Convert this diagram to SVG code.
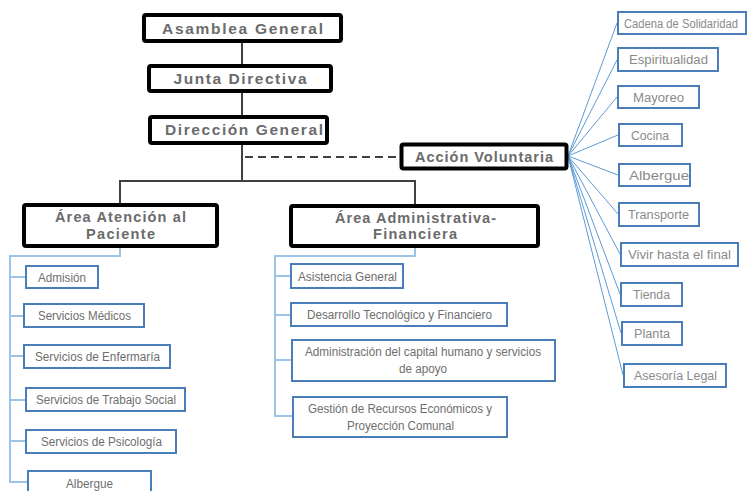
<svg xmlns="http://www.w3.org/2000/svg" width="749" height="491" viewBox="0 0 749 491">
<style>
.main{fill:#fff;stroke:#000;stroke-width:4;}
.mt{font-family:"Liberation Sans",Arial,sans-serif;font-weight:bold;fill:#6b6b6b;text-anchor:middle;}
.sub{fill:#fff;stroke:#4a7ebb;stroke-width:2;}
.st{font-family:"Liberation Sans",Arial,sans-serif;font-size:12.5px;fill:#6e6e6e;text-anchor:middle;}
.rt{font-family:"Liberation Sans",Arial,sans-serif;font-size:12.5px;fill:#8a8a8a;text-anchor:middle;}
.dk{stroke:#404040;stroke-width:2;fill:none;}
.tree{stroke:#9dc3e6;stroke-width:2;fill:none;}
.fan{stroke:#5b9bd5;stroke-width:1;fill:none;}
</style>
<g id="connectors">
<path class="dk" d="M242,43V64M242,93V115M242,145V180M120,181H415M120,180V203M415,180V204"/>
<path class="dk" d="M245,157H400" stroke-dasharray="8,5"/>
<path class="tree" d="M120,248V256H10V482H27M10,277H25M10,316H23M10,356H23M10,400H25M10,441H25"/>
<path class="tree" d="M415,248V256H275V416H292M275,276H290M275,315H290M275,360H291"/>
<path class="fan" d="M568,156L617,23M568,156L617,60M568,156L617,97M568,156L618,135M568,156L618,175M568,156L618,214M568,156L620,254M568,156L620,294M568,156L621,333M568,156L623,375"/>
</g>
<g id="asamblea"><rect class="main" x="144" y="15" width="197" height="26" rx="2"/><text class="mt" x="242.5" y="34" font-size="15.5" textLength="161" lengthAdjust="spacing">Asamblea General</text></g>
<g id="junta"><rect class="main" x="149" y="66" width="182" height="25" rx="2"/><text class="mt" x="240" y="84" font-size="15.5" textLength="133" lengthAdjust="spacing">Junta Directiva</text></g>
<g id="direccion"><rect class="main" x="150" y="117" width="177" height="26" rx="2"/><text class="mt" x="244" y="135" font-size="15.5" textLength="158" lengthAdjust="spacing">Dirección General</text></g>
<g id="accion"><rect class="main" x="401.5" y="144.5" width="165" height="24" rx="2" stroke-width="3"/><text class="mt" x="484" y="161.5" font-size="14.5" textLength="138" lengthAdjust="spacing">Acción Voluntaria</text></g>
<g id="area-atencion"><rect class="main" x="24" y="205" width="193" height="41" rx="2"/><text class="mt" x="120.5" y="222" font-size="14.5" textLength="131" lengthAdjust="spacing">Área Atención al</text><text class="mt" x="120.5" y="239" font-size="14.5" textLength="69" lengthAdjust="spacing">Paciente</text></g>
<g id="area-admin"><rect class="main" x="291" y="206" width="247" height="40" rx="2"/><text class="mt" x="415.5" y="223" font-size="14.5" textLength="161" lengthAdjust="spacing">Área Administrativa-</text><text class="mt" x="415" y="239" font-size="14.5" textLength="84" lengthAdjust="spacing">Financiera</text></g>

<g id="admision"><rect class="sub" x="26" y="266" width="72" height="22"/><text class="st" x="62" y="281.5" textLength="48" lengthAdjust="spacingAndGlyphs">Admisión</text></g>
<g id="medicos"><rect class="sub" x="24" y="304" width="120" height="23"/><text class="st" x="84.5" y="320" textLength="93" lengthAdjust="spacingAndGlyphs">Servicios Médicos</text></g>
<g id="enfermaria"><rect class="sub" x="24" y="345" width="146" height="23"/><text class="st" x="97.5" y="361" textLength="125" lengthAdjust="spacingAndGlyphs">Servicios de Enfermaría</text></g>
<g id="trabajo-social"><rect class="sub" x="26" y="388" width="159" height="23"/><text class="st" x="106" y="404" textLength="140" lengthAdjust="spacingAndGlyphs">Servicios de Trabajo Social</text></g>
<g id="psicologia"><rect class="sub" x="26" y="430" width="150" height="23"/><text class="st" x="101.5" y="446" textLength="121" lengthAdjust="spacingAndGlyphs">Servicios de Psicología</text></g>
<g id="albergue-izq"><rect class="sub" x="28" y="471" width="123" height="26"/><text class="st" x="89.5" y="488" textLength="47" lengthAdjust="spacingAndGlyphs">Albergue</text></g>

<g id="asistencia"><rect class="sub" x="291" y="264" width="112" height="24"/><text class="st" x="347.5" y="281" textLength="99" lengthAdjust="spacingAndGlyphs">Asistencia General</text></g>
<g id="desarrollo"><rect class="sub" x="291" y="303" width="216" height="23"/><text class="st" x="399.5" y="319" textLength="185" lengthAdjust="spacingAndGlyphs">Desarrollo Tecnológico y Financiero</text></g>
<g id="capital-humano"><rect class="sub" x="292" y="340" width="263" height="41"/><text class="st" x="423" y="356" textLength="236" lengthAdjust="spacingAndGlyphs">Administración del capital humano y servicios</text><text class="st" x="423" y="373" textLength="48" lengthAdjust="spacingAndGlyphs">de apoyo</text></g>
<g id="gestion"><rect class="sub" x="293" y="397" width="214" height="40"/><text class="st" x="400" y="413" textLength="184" lengthAdjust="spacingAndGlyphs">Gestión de Recursos Económicos y</text><text class="st" x="400.5" y="430" textLength="107" lengthAdjust="spacingAndGlyphs">Proyección Comunal</text></g>

<g id="cadena"><rect class="sub" x="618" y="12" width="128" height="22"/><text class="rt" x="681" y="27.5" font-size="11.5" textLength="114" lengthAdjust="spacingAndGlyphs">Cadena de Solidaridad</text></g>
<g id="espiritualidad"><rect class="sub" x="618" y="48" width="100" height="23"/><text class="rt" x="668.5" y="64" textLength="79" lengthAdjust="spacingAndGlyphs">Espiritualidad</text></g>
<g id="mayoreo"><rect class="sub" x="618" y="86" width="81" height="22"/><text class="rt" x="658.5" y="102" textLength="51" lengthAdjust="spacingAndGlyphs">Mayoreo</text></g>
<g id="cocina"><rect class="sub" x="619" y="124" width="63" height="22"/><text class="rt" x="650" y="140" textLength="38" lengthAdjust="spacingAndGlyphs">Cocina</text></g>
<g id="albergue-der"><rect class="sub" x="619" y="164" width="71" height="22"/><text class="rt" x="659" y="180" textLength="60" lengthAdjust="spacingAndGlyphs">Albergue</text></g>
<g id="transporte"><rect class="sub" x="619" y="203" width="80" height="23"/><text class="rt" x="658.5" y="219" textLength="61" lengthAdjust="spacingAndGlyphs">Transporte</text></g>
<g id="vivir"><rect class="sub" x="621" y="243" width="117" height="23"/><text class="rt" x="679.5" y="259" textLength="103" lengthAdjust="spacingAndGlyphs">Vivir hasta el final</text></g>
<g id="tienda"><rect class="sub" x="621" y="283" width="61" height="23"/><text class="rt" x="651.5" y="299" textLength="37" lengthAdjust="spacingAndGlyphs">Tienda</text></g>
<g id="planta"><rect class="sub" x="622" y="322" width="60" height="23"/><text class="rt" x="652" y="338" textLength="36" lengthAdjust="spacingAndGlyphs">Planta</text></g>
<g id="asesoria"><rect class="sub" x="624" y="364" width="102" height="23"/><text class="rt" x="675.5" y="380" textLength="83" lengthAdjust="spacingAndGlyphs">Asesoría Legal</text></g>
</svg>
